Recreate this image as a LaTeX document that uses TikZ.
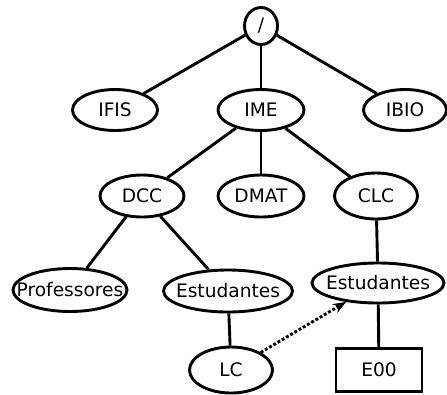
\documentclass[tikz,border=0pt]{standalone}
\usepackage{fontspec}
\setmainfont{DejaVu Sans}
\usetikzlibrary{shapes.geometric,arrows.meta}
\newcommand{\zw}[1]{\makebox[0pt]{#1}}
\begin{document}
\begin{tikzpicture}[x=1bp,y=-1bp,
  every node/.style={font=\fontsize{18.6bp}{21bp}\selectfont, line width=2.9bp, draw, inner sep=0pt},
  el/.style={ellipse},
  box/.style={rectangle},
  edge/.style={line width=2.9bp},
  link/.style={line width=2.9bp, dotted, -{Stealth[length=13bp,width=10bp]}}]
\useasboundingbox (0,0) rectangle (447,394);
\node[el, minimum width=33bp, minimum height=37bp] (root) at (261,26) {\zw{/}};
\node[el, minimum width=85bp, minimum height=41bp] (ifis) at (115,110) {\zw{IFIS}};
\node[el, minimum width=86bp, minimum height=41bp] (ime) at (261,110) {\zw{IME}};
\node[el, minimum width=83bp, minimum height=41bp] (ibio) at (405,110) {\zw{IBIO}};
\node[el, minimum width=84bp, minimum height=42bp] (dcc) at (142,196) {\zw{DCC}};
\node[el, minimum width=86bp, minimum height=42bp] (dmat) at (261,196) {\zw{DMAT}};
\node[el, minimum width=83bp, minimum height=46bp] (clc) at (376,196) {\zw{CLC}};
\node[el, minimum width=114bp, minimum height=43bp] (prof) at (70,290) {\zw{Professores}};
\node[el, minimum width=129bp, minimum height=42bp] (est1) at (228,291) {\zw{Estudantes}};
\node[el, minimum width=132bp, minimum height=40bp] (est2) at (378,283) {\zw{Estudantes}};
\node[el, minimum width=83bp, minimum height=46bp] (lc) at (231,370) {\zw{LC}};
\node[box, minimum width=86bp, minimum height=43bp] (e00) at (379,370) {\zw{E00}};
\draw[edge] (root) -- (ifis);
\draw[edge] (root) -- (ime);
\draw[edge] (root) -- (ibio);
\draw[edge] (ime) -- (dcc);
\draw[edge] (ime) -- (dmat);
\draw[edge] (ime) -- (clc);
\draw[edge] (dcc) -- (prof);
\draw[edge] (dcc) -- (est1);
\draw[edge] (est1) -- (lc);
\draw[edge] (clc) -- (est2);
\draw[edge] (est2) -- (e00);
\draw[link] (lc) -- (est2);
\end{tikzpicture}
\end{document}
